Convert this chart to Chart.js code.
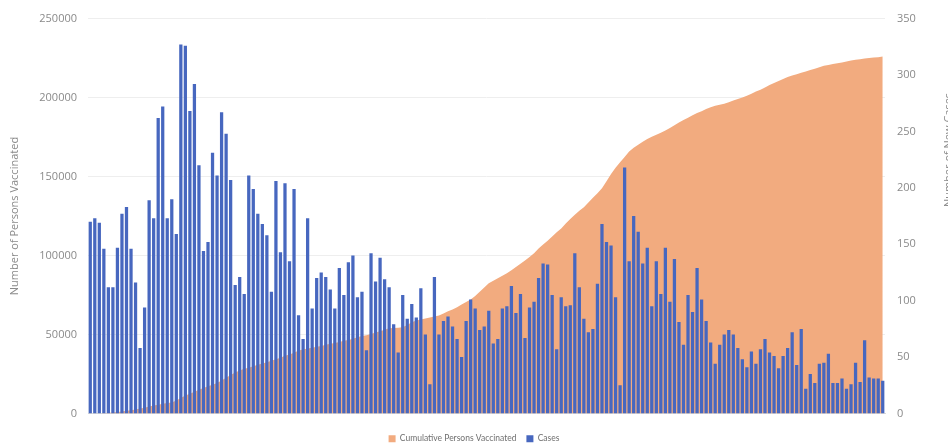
<!DOCTYPE html>
<html><head><meta charset="utf-8">
<script src="https://cdn.jsdelivr.net/npm/chart.js@4.4.1/dist/chart.umd.min.js"></script>
<style>html,body{margin:0;padding:0;background:#fff;overflow:hidden}#wrap{width:948px;height:446px;position:relative}</style>
</head><body><div id="wrap"><canvas id="c" width="948" height="446"></canvas></div>
<script>
const seriesNames = ['Cumulative Persons Vaccinated', 'Cases'];
const axisTitles = ['Number of Persons Vaccinated', 'Number of New Cases'];
const leftTicks = [0, 50000, 100000, 150000, 200000, 250000];
const rightTicks = [0, 50, 100, 150, 200, 250, 300, 350];

const cases = [
170,173,169,146,112,112,147,177,183,146,116,58,94,189,173,262,272,173,190,159,
327,326,268,292,220,144,152,231,211,267,248,207,114,121,106,
211,199,177,168,158,108,206,143,204,135,199,87,66,173,93,120,125,121,110,93,
129,105,134,140,103,108,56,142,117,138,119,112,79,54,105,
84,97,85,111,70,26,121,70,82,86,77,66,50,82,101,93,74,77,91,62,
66,93,95,113,89,106,67,94,99,120,133,132,105,57,103,
95,96,142,112,84,72,75,115,168,152,149,103,25,218,135,175,161,133,147,95,
135,106,147,99,137,81,61,105,90,129,101,82,63,44,61,
70,74,70,58,48,41,55,44,57,66,54,51,40,51,58,72,43,75,22,35,
27,44,45,53,27,27,31,22,26,45,28,65,32,31,31,29
];

const vaccinated = [
0,0,0,200,400,600,900,1300,1700,2100,
2600,3100,3700,4400,5100,5600,6100,6600,7000,8200,
9800,11400,12500,13700,15000,16100,17200,18200,19300,20900,
22600,24300,26000,27200,28300,29000,29900,30800,31600,32500,
33400,34400,35300,36500,37400,38400,39900,40500,41100,41700,
42300,42800,43500,44100,44700,45300,46000,46600,47300,48200,
49000,49600,50400,51200,52100,53000,53900,54100,54300,54600,
56000,57700,58800,59500,60200,60800,61400,62100,63300,64700,
65900,67200,69000,70600,72200,74400,77000,79800,82500,84100,
85700,87200,88800,90700,92700,94800,96900,99100,101500,104400,
107000,109400,112000,114700,117100,120300,123200,125900,128400,130600,
133500,136600,139400,142600,147000,151600,155500,159100,162400,165800,
168300,170100,172000,173800,175200,176500,177800,179100,180800,182500,
184300,185800,187300,188800,190200,191400,192700,193800,194900,195500,
196100,197100,198200,199100,200000,201200,202500,203800,205000,206400,
207900,209200,210500,211800,213000,213900,214800,215700,216500,217400,
218300,219200,220100,220700,221300,221800,222200,222800,223400,223900,
224300,224700,225000,225300,225600,226000
];

const days = cases.map((_, i) => 'Day ' + (i + 1));

const textColor = '#8a8a8a';
const baseFont = '"Open Sans", "Liberation Sans", sans-serif';
const legendFont = 'Lato, "Open Sans", sans-serif';

const rightTitle = {
  id: 'rightTitle',
  afterDraw(chart) {
    const ctx = chart.ctx;
    ctx.save();
    ctx.translate(949, 150);
    ctx.rotate(-Math.PI / 2);
    ctx.font = '11px ' + baseFont;
    ctx.fillStyle = textColor;
    ctx.textAlign = 'center';
    ctx.textBaseline = 'middle';
    ctx.fillText(axisTitles[1], 0, 0);
    ctx.restore();
  }
};

const legendShift = {
  id: 'legendShift',
  afterLayout(chart) {
    const lg = chart.legend;
    if (lg) { lg.top += 11; lg.bottom += 11; }
  }
};

new Chart(document.getElementById('c'), {
  type: 'bar',
  data: {
    labels: days,
    datasets: [
      {
        type: 'line',
        label: seriesNames[0],
        data: vaccinated,
        yAxisID: 'y',
        fill: 'origin',
        backgroundColor: '#F2AB7F',
        borderColor: '#F2AB7F',
        borderWidth: 0,
        pointRadius: 0,
        tension: 0,
        order: 2
      },
      {
        type: 'bar',
        label: seriesNames[1],
        data: cases,
        yAxisID: 'y1',
        backgroundColor: '#4767BF',
        borderWidth: 0,
        barPercentage: 0.72,
        categoryPercentage: 1.0,
        order: 1
      }
    ]
  },
  options: {
    responsive: false,
    animation: false,
    layout: { padding: { left: 0, right: 0, top: 18, bottom: 4 } },
    plugins: {
      tooltip: { enabled: false },
      legend: {
        position: 'bottom',
        labels: {
          boxWidth: 7, boxHeight: 7, padding: 10,
          color: '#6f6f6f',
          font: { family: legendFont, size: 8.5 },
          sort: (a, b) => a.datasetIndex - b.datasetIndex
        }
      }
    },
    scales: {
      x: {
        offset: true,
        grid: { display: false, drawTicks: false },
        border: { display: true, color: '#d9d9d9' },
        ticks: { display: false },
        afterFit(s) { s.height = 0; }
      },
      y: {
        position: 'left',
        min: leftTicks[0], max: leftTicks[leftTicks.length - 1],
        afterBuildTicks(s) { s.ticks = leftTicks.map(v => ({ value: v })); },
        grid: { color: '#eeeeee', drawTicks: false },
        border: { display: false },
        ticks: { color: textColor, padding: 11, font: { family: baseFont, size: 11 }, callback: v => String(v) },
        title: { display: true, text: axisTitles[0], color: textColor, font: { family: baseFont, size: 11 }, padding: { top: 8, bottom: 0 } },
        afterFit(s) { s.width = 88; }
      },
      y1: {
        position: 'right',
        min: rightTicks[0], max: rightTicks[rightTicks.length - 1],
        afterBuildTicks(s) { s.ticks = rightTicks.map(v => ({ value: v })); },
        grid: { display: false, drawTicks: false, drawOnChartArea: false },
        border: { display: false },
        ticks: { color: textColor, padding: 12, font: { family: baseFont, size: 11 }, callback: v => String(v) },
        afterFit(s) { s.width = 63; }
      }
    }
  },
  plugins: [rightTitle, legendShift]
});
</script>
</body></html>
